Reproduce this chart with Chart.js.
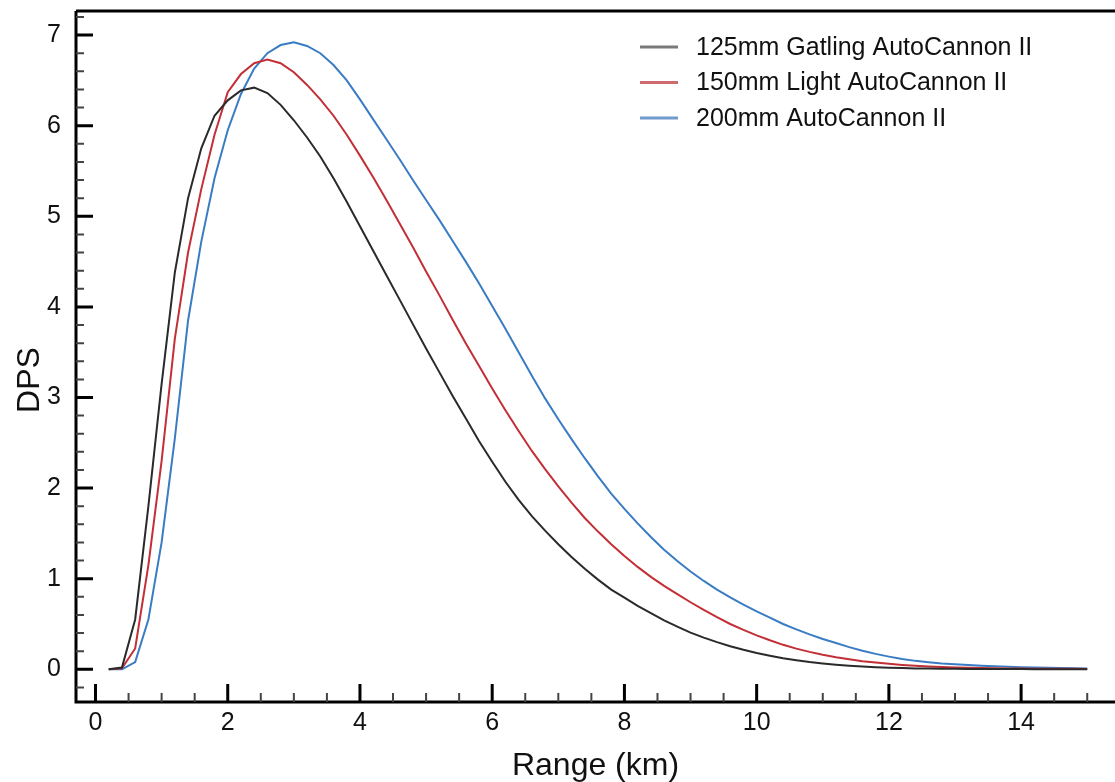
<!DOCTYPE html>
<html>
<head>
<meta charset="utf-8">
<script src="https://cdn.jsdelivr.net/npm/chart.js@4"></script>
<style>
  html, body { margin: 0; padding: 0; background: #fff; }
  #wrap { width: 1115px; height: 782px; position: relative; }
</style>
</head>
<body>
<div id="wrap"><canvas id="dpsChart"></canvas></div>
<script>
// Range in km
const ranges = [
    0.2, 0.4, 0.6, 0.8, 1.0, 1.2, 1.4, 1.6, 1.8, 2.0,
    2.2, 2.4, 2.6, 2.8, 3.0, 3.2, 3.4, 3.6, 3.8, 4.0,
    4.2, 4.4, 4.6, 4.8, 5.0, 5.2, 5.4, 5.6, 5.8, 6.0,
    6.2, 6.4, 6.6, 6.8, 7.0, 7.2, 7.4, 7.6, 7.8, 8.0,
    8.2, 8.4, 8.6, 8.8, 9.0, 9.2, 9.4, 9.6, 9.8, 10.0,
    10.2, 10.4, 10.6, 10.8, 11.0, 11.2, 11.4, 11.6, 11.8, 12.0,
    12.2, 12.4, 12.6, 12.8, 13.0, 13.2, 13.4, 13.6, 13.8, 14.0,
    14.2, 14.4, 14.6, 14.8, 15.0
];

const gatling125 = [
    0, 0.02, 0.55, 1.8, 3.15, 4.38, 5.2, 5.75, 6.11, 6.28,
    6.39, 6.42, 6.36, 6.23, 6.06, 5.87, 5.66, 5.42, 5.16, 4.89,
    4.62, 4.35, 4.08, 3.81, 3.54, 3.28, 3.02, 2.77, 2.52, 2.29,
    2.07, 1.87, 1.69, 1.53, 1.38, 1.24, 1.11, 0.99, 0.88, 0.79,
    0.70, 0.62, 0.54, 0.47, 0.405, 0.35, 0.30, 0.255, 0.215, 0.18,
    0.15, 0.123, 0.10, 0.08, 0.064, 0.05, 0.039, 0.03, 0.023, 0.017,
    0.013, 0.01, 0.008, 0.006, 0.005, 0.004, 0.003, 0.003, 0.002, 0.002,
    0.001, 0.001, 0.001, 0.001, 0.001
];

const light150 = [
    0, 0.01, 0.23, 1.15, 2.3, 3.65, 4.6, 5.3, 5.9, 6.37,
    6.57, 6.69, 6.73, 6.69, 6.59, 6.45, 6.29, 6.11, 5.9, 5.67,
    5.43, 5.18, 4.92, 4.66, 4.39, 4.13, 3.86, 3.60, 3.35, 3.10,
    2.86, 2.63, 2.41, 2.21, 2.02, 1.84, 1.67, 1.52, 1.38, 1.25,
    1.13, 1.02, 0.92, 0.83, 0.74, 0.655, 0.575, 0.50, 0.435, 0.375,
    0.32, 0.27, 0.228, 0.192, 0.16, 0.133, 0.11, 0.09, 0.074, 0.06,
    0.048, 0.039, 0.032, 0.026, 0.021, 0.017, 0.014, 0.011, 0.009, 0.008,
    0.007, 0.006, 0.005, 0.005, 0.004
];

const auto200 = [
    0, 0, 0.08, 0.55, 1.4, 2.55, 3.85, 4.72, 5.42, 5.95,
    6.35, 6.63, 6.80, 6.89, 6.92, 6.88, 6.80, 6.67, 6.50, 6.29,
    6.07, 5.85, 5.63, 5.40, 5.18, 4.96, 4.73, 4.50, 4.26, 4.01,
    3.76, 3.50, 3.24, 2.99, 2.76, 2.54, 2.33, 2.13, 1.94, 1.77,
    1.61, 1.46, 1.32, 1.195, 1.08, 0.975, 0.88, 0.795, 0.715, 0.64,
    0.57, 0.50, 0.44, 0.385, 0.335, 0.29, 0.245, 0.205, 0.17, 0.14,
    0.113, 0.093, 0.077, 0.064, 0.055, 0.047, 0.04, 0.034, 0.028, 0.023,
    0.019, 0.016, 0.013, 0.011, 0.009
];

const seriesNames = ['125mm Gatling AutoCannon II', '150mm Light AutoCannon II', '200mm AutoCannon II'];
const seriesColors = ['#2a2a2a', '#c22f36', '#3a7cc3'];
const legendColors = ['#7a7a7a', '#cf6a6e', '#6f9bcf'];

const xTicks = [0, 2, 4, 6, 8, 10, 12, 14];
const yTicks = [0, 1, 2, 3, 4, 5, 6, 7];

const FONT = "'Liberation Sans', Arial, sans-serif";

function pairs(ys) {
    return ranges.map(function (x, i) { return { x: x, y: ys[i] }; });
}

// axes box + inward major/minor tick marks + y title
const frame = {
    id: 'frame',
    afterDraw(chart) {
        const ctx = chart.ctx;
        const a = chart.chartArea;
        const xs = chart.scales.x, ys = chart.scales.y;
        ctx.save();
        ctx.strokeStyle = '#000';
        ctx.lineWidth = 3;
        ctx.beginPath();
        ctx.moveTo(a.left, a.top); ctx.lineTo(a.right, a.top);
        ctx.moveTo(a.left, a.top); ctx.lineTo(a.left, a.bottom); ctx.lineTo(a.right, a.bottom);
        ctx.stroke();

        // minor ticks
        ctx.strokeStyle = '#444';
        ctx.lineWidth = 2;
        ctx.beginPath();
        for (let v = -0.2; v <= 7.21; v += 0.2) {
            const r = Math.round(v * 10) / 10;
            if (Math.abs(r - Math.round(r)) < 1e-6) continue;
            const py = ys.getPixelForValue(r);
            ctx.moveTo(a.left, py); ctx.lineTo(a.left + 8, py);
        }
        for (let v = 0.5; v <= 15.01; v += 0.5) {
            if (v % 2 === 0) continue;
            const px = xs.getPixelForValue(v);
            ctx.moveTo(px, a.bottom); ctx.lineTo(px, a.bottom - 9);
        }
        ctx.stroke();

        // major ticks
        ctx.strokeStyle = '#000';
        ctx.lineWidth = 3;
        ctx.beginPath();
        yTicks.forEach(function (v) {
            const py = ys.getPixelForValue(v);
            ctx.moveTo(a.left, py); ctx.lineTo(a.left + 17, py);
        });
        xTicks.forEach(function (v) {
            const px = xs.getPixelForValue(v);
            ctx.moveTo(px, a.bottom); ctx.lineTo(px, a.bottom - 18);
        });
        ctx.stroke();

        // y axis title, sits a little below the plot centre like the original
        ctx.translate(30, 380);
        ctx.rotate(-Math.PI / 2);
        ctx.font = '32px ' + FONT;
        ctx.fillStyle = '#111';
        ctx.textAlign = 'center';
        ctx.textBaseline = 'middle';
        ctx.fillText('DPS', 0, 0);
        ctx.restore();
    }
};

// legend drawn inside the plot, top right
const insideLegend = {
    id: 'insideLegend',
    afterDraw(chart) {
        const ctx = chart.ctx;
        ctx.save();
        ctx.font = '25px ' + FONT;
        ctx.textBaseline = 'middle';
        chart.data.datasets.forEach(function (ds, i) {
            const y = 47 + i * 35.5;
            ctx.strokeStyle = legendColors[i];
            ctx.lineWidth = 3;
            ctx.beginPath();
            ctx.moveTo(640, y); ctx.lineTo(678, y);
            ctx.stroke();
            ctx.fillStyle = '#111';
            ctx.fillText(ds.label, 696, y + 1);
        });
        ctx.restore();
    }
};

const ctx = document.getElementById('dpsChart');
new Chart(ctx, {
    type: 'line',
    data: {
        datasets: [
            { label: seriesNames[0], data: pairs(gatling125), borderColor: seriesColors[0] },
            { label: seriesNames[1], data: pairs(light150), borderColor: seriesColors[1] },
            { label: seriesNames[2], data: pairs(auto200), borderColor: seriesColors[2] }
        ]
    },
    options: {
        responsive: true,
        maintainAspectRatio: false,
        animation: false,
        layout: { padding: { top: 11, right: 0, left: 0, bottom: 0 } },
        elements: {
            line: { borderWidth: 2, tension: 0, fill: false },
            point: { radius: 0 }
        },
        plugins: {
            legend: { display: false },
            tooltip: { enabled: false }
        },
        scales: {
            x: {
                type: 'linear',
                min: -0.295,
                max: 15.42,
                afterFit: function (scale) {
                    scale.height = 80;
                    scale.paddingLeft = 0;
                    scale.paddingRight = 0;
                },
                afterBuildTicks: function (scale) {
                    scale.ticks = xTicks.map(function (v) { return { value: v }; });
                },
                grid: { display: false, drawTicks: false },
                border: { display: false },
                ticks: {
                    padding: 6,
                    maxRotation: 0,
                    color: '#111',
                    font: { family: FONT, size: 25 }
                },
                title: {
                    display: true,
                    text: 'Range (km)',
                    color: '#111',
                    font: { family: FONT, size: 32, lineHeight: 1 },
                    padding: { top: 0, bottom: 0 }
                }
            },
            y: {
                min: -0.361,
                max: 7.266,
                afterFit: function (scale) {
                    scale.width = 76;
                    scale.paddingTop = 0;
                    scale.paddingBottom = 0;
                },
                afterBuildTicks: function (scale) {
                    scale.ticks = yTicks.map(function (v) { return { value: v }; });
                },
                grid: { display: false, drawTicks: false },
                border: { display: false },
                ticks: {
                    padding: 15,
                    color: '#111',
                    font: { family: FONT, size: 25 }
                },
                title: { display: false }
            }
        }
    },
    plugins: [frame, insideLegend]
});
</script>
</body>
</html>
